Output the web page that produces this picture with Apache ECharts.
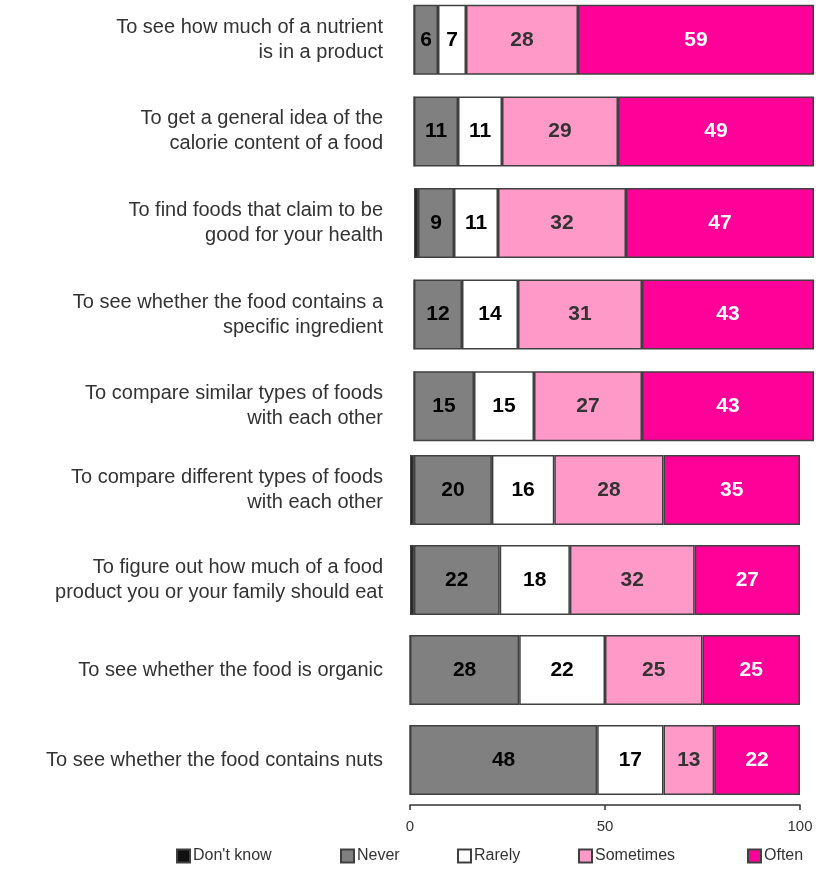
<!DOCTYPE html>
<html>
<head>
<meta charset="utf-8">
<script src="https://cdn.jsdelivr.net/npm/echarts@6/dist/echarts.min.js"></script>
<style>
  html, body { margin: 0; padding: 0; background: #fff; }
  #main { width: 816px; height: 869px; }
</style>
</head>
<body>
<div id="main"></div>
<script>
// 类目（从上到下）
let reasons = [
  'To see how much of a nutrient\nis in a product',
  'To get a general idea of the\ncalorie content of a food',
  'To find foods that claim to be\ngood for your health',
  'To see whether the food contains a\nspecific ingredient',
  'To compare similar types of foods\nwith each other',
  'To compare different types of foods\nwith each other',
  'To figure out how much of a food\nproduct you or your family should eat',
  'To see whether the food is organic',
  'To see whether the food contains nuts'
]
let answerNames = ["Don't know", 'Never', 'Rarely', 'Sometimes', 'Often']
let dontKnow  = [0, 0, 1, 0, 0, 1, 1, 0, 0]
let never     = [6, 11, 9, 12, 15, 20, 22, 28, 48]
let rarely    = [7, 11, 11, 14, 15, 16, 18, 22, 17]
let sometimes = [28, 29, 32, 31, 27, 28, 32, 25, 13]
let often     = [59, 49, 47, 43, 43, 35, 27, 25, 22]
let xTicks    = [0, 50, 100]

let colors = ['#111111', '#808080', '#ffffff', '#ff99c8', '#ff0099']
let labelColors = ['#000', '#000', '#000', '#333', '#fff']
let font = 'Liberation Sans, Arial, sans-serif'

//- 原图上半部分5条和下半部分4条比例略有不同，分两个grid
let split = 5
let allData = [dontKnow, never, rarely, sometimes, often]

function makeSeries(gridIdx, from, to){
  return allData.map((arr, i) => ({
    name: answerNames[i],
    type: 'bar',
    stack: 'g' + gridIdx,
    xAxisIndex: gridIdx,
    yAxisIndex: gridIdx,
    barWidth: 70,
    data: arr.slice(from, to),
    itemStyle: {color: colors[i], borderColor: '#404040', borderWidth: 1.5},
    label: {
      show: i > 0,
      position: 'inside',
      color: labelColors[i],
      fontSize: 21,
      fontWeight: 'bold',
      fontFamily: font
    }
  }))
}

let myChart = echarts.init(document.getElementById('main'))
let legendLeft = [176, 340, 457, 578, 747]
let option = {
  animation: false,
  backgroundColor: '#fff',
  grid: [
    {left: 414, width: 400, top: -6, height: 458, outerBoundsMode: 'none', containLabel: false},
    {left: 410, width: 390, top: 445, height: 360, outerBoundsMode: 'none', containLabel: false}
  ],
  xAxis: [
    {gridIndex: 0, type: 'value', min: 0, max: 100, show: false},
    {gridIndex: 1, type: 'value', min: 0, max: 100, interval: 50,
     axisLine: {show: true, lineStyle: {color: '#333', width: 1.5}},
     axisTick: {show: true, length: 5, lineStyle: {color: '#333', width: 1.5}},
     splitLine: {show: false},
     axisLabel: {color: '#333', fontSize: 15, fontFamily: font, margin: 14,
       formatter: v => xTicks.indexOf(v) >= 0 ? String(v) : ''}}
  ],
  yAxis: [
    {gridIndex: 0, type: 'category', inverse: true, data: reasons.slice(0, split),
     axisLine: {show: false}, axisTick: {show: false},
     axisLabel: {color: '#333', fontSize: 20, fontFamily: font, lineHeight: 25, margin: 31, align: 'right'}},
    {gridIndex: 1, type: 'category', inverse: true, data: reasons.slice(split),
     axisLine: {show: false}, axisTick: {show: false},
     axisLabel: {color: '#333', fontSize: 20, fontFamily: font, lineHeight: 25, margin: 27, align: 'right'}}
  ],
  legend: answerNames.map((n, i) => ({
    data: [n], left: legendLeft[i], top: 848, padding: 0, icon: 'rect',
    itemWidth: 13, itemHeight: 13, itemGap: 4,
    textStyle: {color: '#333', fontSize: 16, fontFamily: font, padding: [0, 0, 0, -2]}
  })),
  series: [...makeSeries(0, 0, split), ...makeSeries(1, split, reasons.length)]
}
myChart.setOption(option)
</script>
</body>
</html>
